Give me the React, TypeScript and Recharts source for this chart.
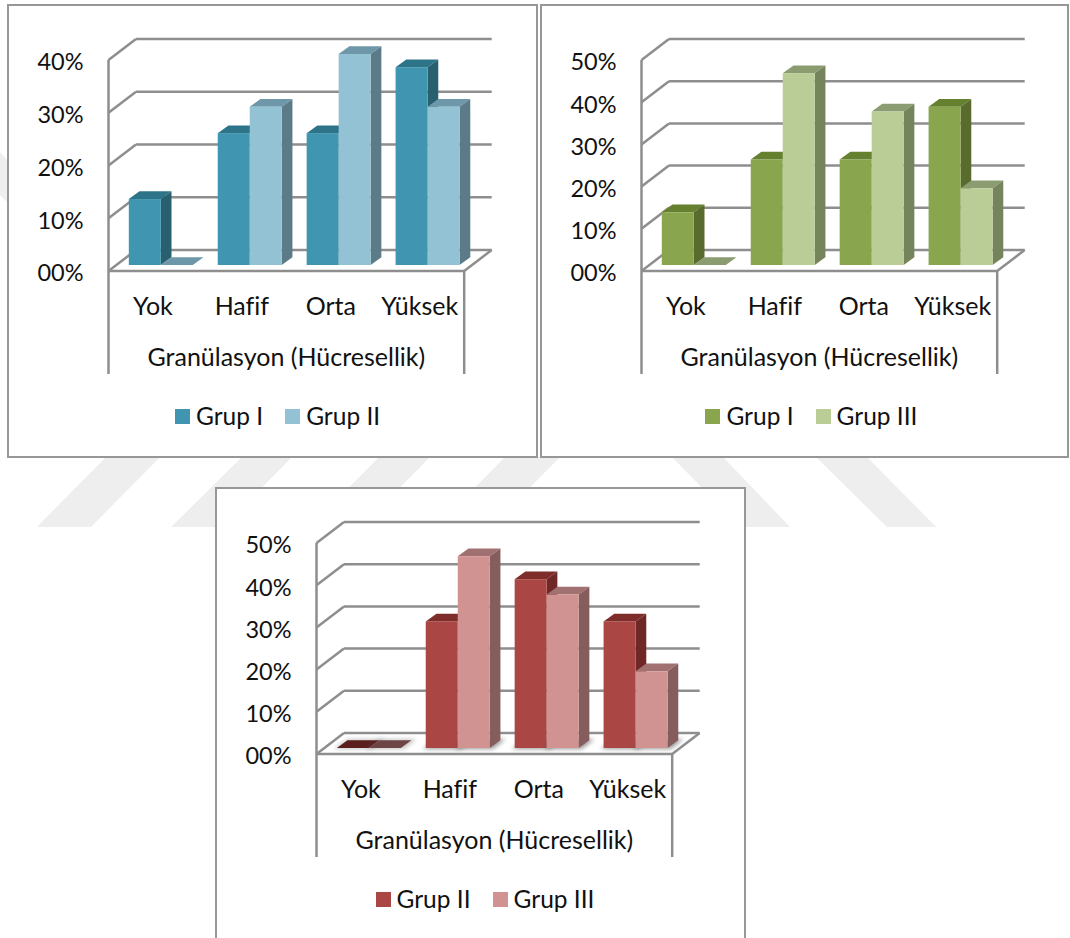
import { BarChart, Bar, XAxis, YAxis, CartesianGrid, Legend, Label } from 'recharts'

const grades = ['Yok', 'Hafif', 'Orta', 'Yüksek']
const grupIValues = [12.5, 25, 25, 37.5]
const grupIIValues = [0, 30, 40, 30]
const grupIIIValues = [0, 45.45, 36.36, 18.18]
const ticksTo40 = [0, 10, 20, 30, 40]
const ticksTo50 = [0, 10, 20, 30, 40, 50]

const tealDark = { front: '#4095b0', side: '#286070', top: '#2e7488', flat: '#2e7488' }
const tealLight = { front: '#93c2d4', side: '#5c7b88', top: '#6e98a9', flat: '#6e98a9' }
const greenDark = { front: '#89a54e', side: '#5a6b2e', top: '#65802f', flat: '#65802f' }
const greenLight = { front: '#bacd96', side: '#76845c', top: '#8b9d70', flat: '#8b9d70' }
const redDark = { front: '#aa4744', side: '#6f2826', top: '#7e2d2b', flat: '#5a1e1d' }
const redLight = { front: '#d19392', side: '#855d5c', top: '#a07170', flat: '#6e4545' }

const FONT = 'Lato, sans-serif'
const GRID = '#8e8e8e'
const W = 531
const H = 454

// depth of the chart box and of each column
const WALL_DX = 27.5
const WALL_DY = -21
const BAR_SHIFT_X = 8.3
const BAR_SHIFT_Y = -6
const BAR_DX = 10.7
const BAR_DY = -7.7

const poly = (pts: number[][]) => pts.map((p) => p.join(',')).join(' ')

const GridLine = (props: any) => {
  const { x1, x2, y1, y, height } = props
  const isFloor = Math.abs(y1 - (y + height)) < 1
  return (
    <g stroke={GRID} strokeWidth={2.5} fill="none">
      <line x1={x1} y1={y1} x2={x1 + WALL_DX} y2={y1 + WALL_DY} />
      <line x1={x1 + WALL_DX} y1={y1 + WALL_DY} x2={x2 + WALL_DX} y2={y1 + WALL_DY} />
      {isFloor && <line x1={x2} y1={y1} x2={x2 + WALL_DX} y2={y1 + WALL_DY} />}
    </g>
  )
}

const Column = (props: any) => {
  const { x, y, width, height, colors, shadow } = props
  const left = x + BAR_SHIFT_X
  const right = left + width
  const top = y + BAR_SHIFT_Y
  const bottom = top + height
  const topFace = poly([[left, top], [left + BAR_DX, top + BAR_DY], [right + BAR_DX, top + BAR_DY], [right, top]])
  const sideFace = poly([[right, top], [right + BAR_DX, top + BAR_DY], [right + BAR_DX, bottom + BAR_DY], [right, bottom]])
  const isFlat = height < 0.5
  return (
    <g>
      {shadow && (
        <polygon
          points={poly([[left - 3, bottom + 1], [left + BAR_DX, bottom + BAR_DY - 1], [right + BAR_DX + 5, bottom + BAR_DY - 1], [right + 3, bottom + 1]])}
          fill="#555"
          opacity={isFlat ? 0.35 : 0.6}
          style={{ filter: 'blur(2px)' }}
        />
      )}
      <polygon points={topFace} fill={isFlat ? colors.flat : colors.top} />
      {!isFlat && <polygon points={sideFace} fill={colors.side} />}
      {!isFlat && <rect x={left} y={top} width={width} height={height} fill={colors.front} />}
    </g>
  )
}

// category title, with the two drop lines of the outer axis level
const AxisTitle = (props: any) => {
  const { x, y, width } = props.viewBox
  return (
    <g>
      <line x1={x} y1={y} x2={x} y2={y + 103} stroke={GRID} strokeWidth={2.5} />
      <line x1={x + width} y1={y} x2={x + width} y2={y + 103} stroke={GRID} strokeWidth={2.5} />
      <text x={x + width / 2} y={y + 95} textAnchor="middle" fontFamily={FONT} fontSize={25} fill="#111">
        Granülasyon (Hücresellik)
      </text>
    </g>
  )
}

const LegendRow = (props: any) => (
  <div style={{ display: 'flex', alignItems: 'center', fontFamily: FONT, fontSize: 24.5, color: '#111', lineHeight: '30px' }}>
    {props.payload.map((item: any) => (
      <div key={item.value} style={{ display: 'flex', alignItems: 'center', marginRight: 22 }}>
        <span style={{ width: 15, height: 15, background: item.color, marginRight: 6 }} />
        {item.value}
      </div>
    ))}
  </div>
)

type PanelProps = {
  left: number
  top: number
  frameWidth?: number
  names: string[]
  first: number[]
  second: number[]
  ticks: number[]
  firstColors: any
  secondColors: any
  legendLeft: number
  shadow?: boolean
}

const Panel = ({ left, top, frameWidth = W, names, first, second, ticks, firstColors, secondColors, legendLeft, shadow }: PanelProps) => {
  const data = grades.map((grade, i) => ({ grade, a: first[i], b: second[i] }))
  return (
    <div style={{ position: 'absolute', left, top, width: frameWidth, height: H, background: '#fff', boxShadow: 'inset 0 0 0 2px #979797', fontVariantLigatures: 'none' }}>
      <BarChart
        width={W}
        height={H}
        data={data}
        barGap={0}
        barCategoryGap="13.5%"
        margin={{ top: 56, right: 73.8, bottom: 87, left: 11.5 }}
      >
        <CartesianGrid vertical={false} horizontal={GridLine} />
        <XAxis
          dataKey="grade"
          height={100}
          interval={0}
          tickSize={0}
          tickMargin={26}
          axisLine={{ stroke: GRID, strokeWidth: 2.5 }}
          tick={{ fontFamily: FONT, fontSize: 25, fill: '#111' }}
        >
          <Label content={AxisTitle} />
        </XAxis>
        <YAxis
          width={90}
          domain={[0, ticks[ticks.length - 1]]}
          ticks={ticks}
          tickSize={0}
          tickMargin={25}
          tickFormatter={(v: number) => `${String(v).padStart(2, '0')}%`}
          axisLine={{ stroke: GRID, strokeWidth: 2.5 }}
          tick={{ fontFamily: FONT, fontSize: 23.5, fill: '#111', dy: 2 }}
        />
        <Legend
          verticalAlign="middle"
          content={LegendRow}
          wrapperStyle={{ top: 397, left: legendLeft, width: 340 }}
        />
        <Bar
          dataKey="a"
          name={names[0]}
          fill={firstColors.front}
          isAnimationActive={false}
          shape={(p: any) => <Column {...p} colors={firstColors} shadow={shadow} />}
        />
        <Bar
          dataKey="b"
          name={names[1]}
          fill={secondColors.front}
          isAnimationActive={false}
          shape={(p: any) => <Column {...p} colors={secondColors} shadow={shadow} />}
        />
      </BarChart>
    </div>
  )
}

// pale backdrop stripes behind the panels
const stripes = [
  [[0, 152], [7, 160], [7, 202], [0, 195]],
  [[106, 457], [160, 457], [91, 527], [37, 527]],
  [[242, 457], [292, 457], [223, 527], [171, 527]],
  [[379, 457], [430, 457], [361, 527], [310, 527]],
  [[505, 457], [560, 457], [491, 527], [436, 527]],
  [[672, 457], [723, 457], [790, 527], [740, 527]],
  [[816, 457], [867, 457], [936, 527], [887, 527]],
]

export default function App() {
  return (
    <div style={{ position: 'absolute', left: 0, top: 0, width: 1070, height: 938, overflow: 'hidden', background: '#fff' }}>
      <svg width={1070} height={938} style={{ position: 'absolute', left: 0, top: 0 }}>
        {stripes.map((s, i) => (
          <polygon key={i} points={poly(s)} fill="#eeeeee" />
        ))}
      </svg>
      <Panel
        left={7}
        top={4}
        names={['Grup I', 'Grup II']}
        first={grupIValues}
        second={grupIIValues}
        ticks={ticksTo40}
        firstColors={tealDark}
        secondColors={tealLight}
        legendLeft={168}
      />
      <Panel
        left={540.4}
        top={4}
        frameWidth={529}
        names={['Grup I', 'Grup III']}
        first={grupIValues}
        second={grupIIIValues}
        ticks={ticksTo50}
        firstColors={greenDark}
        secondColors={greenLight}
        legendLeft={165}
      />
      <Panel
        left={214.5}
        top={487}
        names={['Grup II', 'Grup III']}
        first={grupIIValues}
        second={grupIIIValues}
        ticks={ticksTo50}
        firstColors={redDark}
        secondColors={redLight}
        legendLeft={161}
        shadow
      />
    </div>
  )
}
